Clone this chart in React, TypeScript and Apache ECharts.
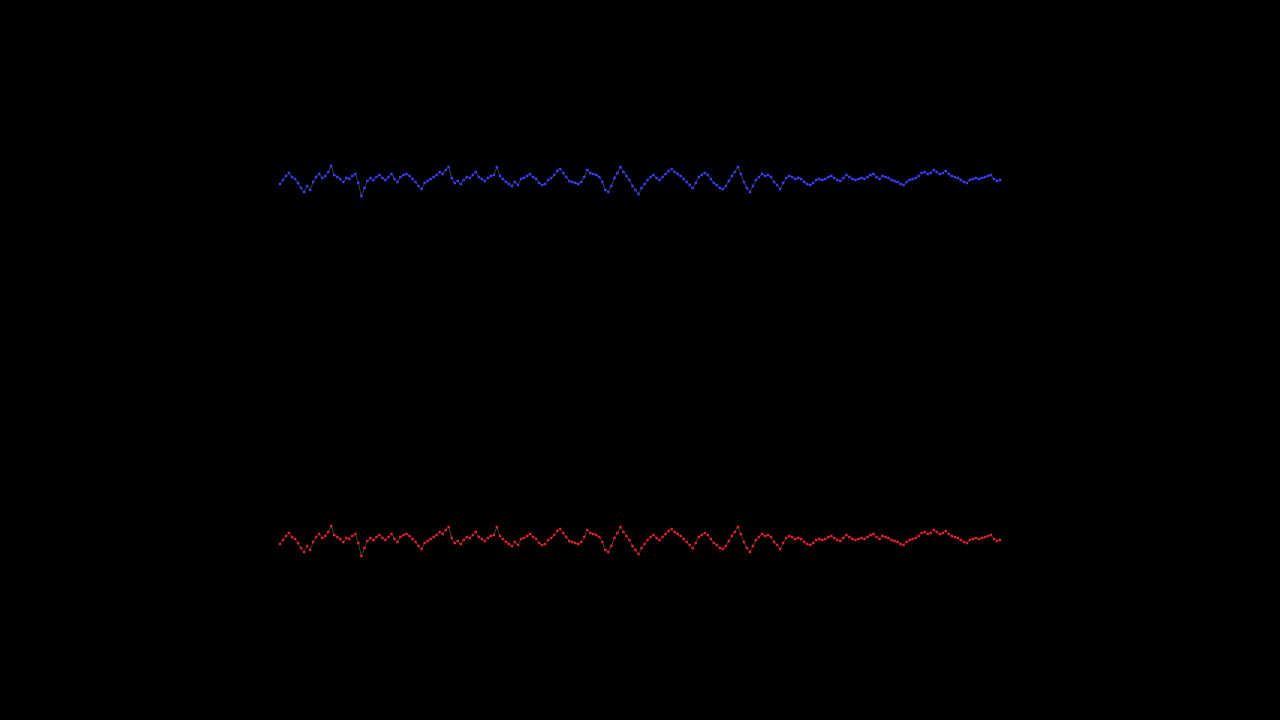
import React, { useEffect, useRef } from "react";
import * as echarts from "echarts";

const signal: number[] = [
  -4, 0, 4, 7, 3, 1, -3, -8, -12, -6, -10, -2, 3, 6, 2, 4, 8, 14, 5, 3,
  1, -2, 2, 1, 4, 6, -3, -16, -8, -1, 2, 0, 3, 5, 2, 0, 3, 6, 1, -2,
  3, 5, 6, 4, 1, -2, -6, -9, -3, -1, 1, 3, 5, 8, 6, 10, 13, 2, -3, -1,
  -4, 0, 3, 2, 5, 8, 3, 1, -1, 2, 4, 5, 13, 4, 1, -2, -4, -6, -2, -5,
  1, 2, 4, 6, 3, 1, -3, -5, -4, 0, 2, 5, 9, 11, 7, 3, -1, -2, -3, -4,
  -2, 3, 10, 7, 6, 5, 3, -2, -10, -12, -6, 2, 7, 13, 8, 4, 0, -6, -10, -14,
  -8, -4, 0, 3, 5, 2, 0, 3, 6, 9, 11, 8, 6, 4, 1, -2, -5, -8, -3, 3,
  5, 7, 5, 1, -3, -5, -8, -9, -6, -1, 4, 8, 13, 6, -2, -8, -12, -6, 0, 3,
  6, 4, 5, 3, -2, -5, -9, -3, 2, 4, 3, 1, 2, 1, -2, -4, -5, -3, 0, 1,
  0, 1, 3, 4, 2, 0, -1, 2, 5, 3, 1, 0, 1, 2, 1, 3, 5, 6, 3, 1,
  4, 3, 2, 0, -1, -2, -4, -5, -2, 0, 1, 2, 4, 7, 8, 6, 7, 10, 8, 6,
  7, 9, 6, 4, 3, 2, 0, -2, -3, 0, 1, 2, 1, 2, 3, 4, 5, 1, -1, 0,
];

const categories: string[] = signal.map((_, i) => String(i));

export default function App() {
  const ref = useRef<HTMLDivElement>(null);
  useEffect(() => {
    if (!ref.current) return;
    const chart = echarts.init(ref.current, undefined, { renderer: "svg" });
    const mkSeries = (idx: number, dot: string, line: string) => ({
      type: "line",
      xAxisIndex: idx,
      yAxisIndex: idx,
      data: signal,
      symbol: "rect",
      symbolSize: 2.5,
      showSymbol: true,
      showAllSymbol: true,
      itemStyle: { color: dot, borderWidth: 0 },
      lineStyle: { color: line, width: 0.8, opacity: 0.35 },
      emphasis: { disabled: true },
    });
    chart.setOption({
      animation: false,
      backgroundColor: "#000000",
      grid: [
        { left: 280, right: 280, top: 158, height: 44 },
        { left: 280, right: 280, top: 518, height: 44 },
      ],
      xAxis: [0, 1].map((g) => ({
        type: "category",
        gridIndex: g,
        data: categories,
        boundaryGap: false,
        show: false,
      })),
      yAxis: [0, 1].map((g) => ({
        type: "value",
        gridIndex: g,
        min: -22,
        max: 22,
        show: false,
      })),
      series: [
        mkSeries(0, "#3a3aff", "#e0e4ff"),
        mkSeries(1, "#e0202c", "#ffe0cc"),
      ],
    });
    return () => chart.dispose();
  }, []);
  return (
    <div
      ref={ref}
      style={{ position: "fixed", left: 0, top: 0, width: 1280, height: 720, background: "#000" }}
    />
  );
}
